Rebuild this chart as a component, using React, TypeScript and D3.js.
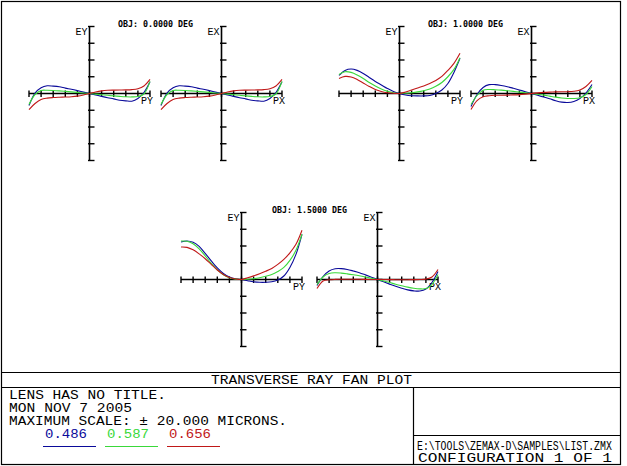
import React, { useEffect, useRef } from 'react';
import * as d3 from 'd3';

// pupil sample positions shared by every fan
const pupil = [-1, -0.9, -0.8, -0.7, -0.6, -0.5, -0.4, -0.3, -0.2, -0.1, 0, 0.1, 0.2, 0.3, 0.4, 0.5, 0.6, 0.7, 0.8, 0.9, 1];

const wavelengths = ['0.486', '0.587', '0.656'];
const waveColors = ['#0a0a9a', '#3ad83a', '#c01818'];

const fieldTitles = ['OBJ: 0.0000 DEG', 'OBJ: 1.0000 DEG', 'OBJ: 1.5000 DEG'];

// transverse aberration, microns (blue, green, red)
const obj0Ey = [
  [-3.6, 0.1, 1.7, 2.3, 2.2, 2.0, 1.6, 1.25, 0.85, 0.42, 0, -0.42, -0.85, -1.25, -1.6, -2.0, -2.2, -2.3, -1.5, 0.3, 3.5],
  [-3.3, -0.3, 0.9, 0.96, 0.9, 0.78, 0.63, 0.48, 0.33, 0.15, 0, -0.18, -0.36, -0.54, -0.72, -0.87, -0.99, -1.02, -0.9, -0.15, 3.6],
  [-4.8, -3.0, -1.8, -1.38, -1.2, -1.11, -1.05, -0.96, -0.78, -0.45, 0, 0.45, 0.78, 0.96, 1.02, 1.05, 1.08, 1.17, 1.44, 2.25, 4.2],
];
const obj0Ex = [
  [-3.6, 0.1, 1.7, 2.3, 2.2, 2.0, 1.6, 1.25, 0.85, 0.42, 0, -0.42, -0.85, -1.25, -1.6, -2.0, -2.2, -2.3, -1.5, 0.3, 3.5],
  [-3.3, -0.3, 0.9, 0.96, 0.9, 0.78, 0.63, 0.48, 0.33, 0.15, 0, -0.18, -0.36, -0.54, -0.72, -0.87, -0.99, -1.02, -0.9, -0.15, 3.6],
  [-4.8, -3.0, -1.8, -1.38, -1.2, -1.11, -1.05, -0.96, -0.78, -0.45, 0, 0.45, 0.78, 0.96, 1.02, 1.05, 1.08, 1.17, 1.44, 2.25, 4.2],
];
const obj1Ey = [
  [5.4, 6.9, 7.3, 6.9, 6.0, 4.8, 3.6, 2.55, 1.5, 0.6, 0, -0.45, -0.66, -0.72, -0.72, -0.6, 0, 1.05, 3.0, 6.3, 10.5],
  [5.7, 6.5, 6.3, 5.55, 4.5, 3.3, 2.25, 1.35, 0.69, 0.24, 0, 0.09, 0.24, 0.48, 0.84, 1.35, 2.16, 3.3, 5.0, 7.2, 10.7],
  [4.5, 5.1, 4.95, 4.2, 3.15, 2.1, 1.2, 0.6, 0.24, 0.06, 0, 0.45, 1.05, 1.65, 2.25, 3.0, 3.9, 5.1, 6.9, 9.0, 12.0],
];
const obj1Ex = [
  [-3.9, -0.3, 1.8, 2.64, 2.64, 2.4, 2.04, 1.56, 1.05, 0.54, 0, -0.54, -1.05, -1.56, -2.16, -2.58, -2.7, -2.4, -1.5, 0.15, 2.7],
  [-3.3, -0.6, 0.96, 1.2, 1.14, 1.02, 0.84, 0.63, 0.42, 0.21, 0, -0.24, -0.48, -0.78, -1.08, -1.32, -1.47, -1.5, -1.26, -0.3, 2.1],
  [-4.8, -2.1, -0.96, -0.66, -0.54, -0.51, -0.48, -0.42, -0.33, -0.18, 0, 0.18, 0.33, 0.42, 0.48, 0.51, 0.54, 0.66, 1.05, 2.1, 3.9],
];
const obj15Ey = [
  [11.2, 11.5, 11.1, 9.9, 7.8, 5.55, 3.45, 1.8, 0.75, 0.21, 0, -0.36, -0.69, -0.84, -0.84, -0.69, -0.15, 1.05, 3.6, 7.5, 13.5],
  [11.5, 11.4, 10.65, 9.15, 7.05, 4.8, 2.85, 1.44, 0.54, 0.12, 0, 0.06, 0.24, 0.54, 0.96, 1.5, 2.4, 3.6, 5.7, 8.7, 13.5],
  [9.7, 9.6, 8.85, 7.65, 6.2, 4.5, 2.85, 1.5, 0.6, 0.15, 0, 0.51, 1.08, 1.74, 2.46, 3.3, 4.5, 6.0, 7.95, 10.5, 14.7],
];
const obj15Ex = [
  [-1.8, 0.9, 2.55, 3.2, 3.24, 3.0, 2.55, 2.04, 1.38, 0.69, 0, -0.69, -1.38, -2.04, -2.61, -3.09, -3.39, -3.45, -2.85, -0.9, 2.4],
  [-1.5, 0.75, 1.8, 2.0, 1.9, 1.68, 1.41, 1.11, 0.75, 0.36, 0, -0.45, -0.9, -1.41, -1.86, -2.28, -2.61, -2.79, -2.7, -1.5, 1.5],
  [-2.7, -0.45, -0.09, 0.03, 0.06, 0.06, 0.06, 0.06, 0.03, 0.015, 0, -0.015, -0.03, -0.06, -0.06, -0.06, -0.03, 0, 0.12, 0.75, 3.0],
];

const maxScale = 20; // microns at the end of each vertical axis

// one entry per fan: axis labels and the three wavelength curves
const fans = [
  { yLabel: 'EY', xLabel: 'PY', values: obj0Ey },
  { yLabel: 'EX', xLabel: 'PX', values: obj0Ex },
  { yLabel: 'EY', xLabel: 'PY', values: obj1Ey },
  { yLabel: 'EX', xLabel: 'PX', values: obj1Ex },
  { yLabel: 'EY', xLabel: 'PY', values: obj15Ey },
  { yLabel: 'EX', xLabel: 'PX', values: obj15Ex },
];

const W = 627;
const H = 466;
const halfW = 60.5;
const halfH = 67;
// plot origins
const centers = [
  [89.5, 93.5], [221.5, 93.5],
  [399.5, 93.5], [531.5, 93.5],
  [241.5, 279.5], [377.5, 279.5],
];

const mono = '"DejaVu Sans Mono", "Liberation Mono", monospace';
const thinMono = '"Liberation Mono", "DejaVu Sans Mono", monospace';

const App = () => {
  const svgRef = useRef<SVGSVGElement | null>(null);

  useEffect(() => {
    const svg = d3.select(svgRef.current);
    svg.selectAll('*').remove();

    svg.append('rect').attr('width', W).attr('height', H).attr('fill', '#fff');

    fans.forEach((fan, i) => {
      const [cx, cy] = centers[i];
      const x = d3.scaleLinear().domain([-1, 1]).range([cx - halfW, cx + halfW]);
      const y = d3.scaleLinear().domain([-maxScale, maxScale]).range([cy + halfH, cy - halfH]);
      const g = svg.append('g');

      // horizontal pupil axis with ticks
      g.append('line')
        .attr('x1', x(-1)).attr('x2', x(1)).attr('y1', y(0)).attr('y2', y(0))
        .attr('stroke', '#000').attr('stroke-width', 1.6);
      g.selectAll('.xt')
        .data(d3.ticks(-1, 1, 10))
        .join('line')
        .attr('x1', d => x(d)).attr('x2', d => x(d))
        .attr('y1', y(0) - 3).attr('y2', y(0) + 3.5)
        .attr('stroke', '#000').attr('stroke-width', 1.4);

      // vertical aberration axis with ticks
      g.append('line')
        .attr('x1', x(0)).attr('x2', x(0)).attr('y1', y(maxScale)).attr('y2', y(-maxScale))
        .attr('stroke', '#000').attr('stroke-width', 1.6);
      g.selectAll('.yt')
        .data(d3.ticks(-maxScale, maxScale, 10))
        .join('line')
        .attr('x1', x(0) - 1.5).attr('x2', x(0) + 5)
        .attr('y1', d => y(d)).attr('y2', d => y(d))
        .attr('stroke', '#000').attr('stroke-width', 1.4);

      g.append('text')
        .attr('x', x(0) - 2).attr('y', y(maxScale) + 8)
        .attr('text-anchor', 'end')
        .attr('font-family', thinMono).attr('font-size', 10)
        .text(fan.yLabel);
      g.append('text')
        .attr('x', x(1) + 3).attr('y', y(0) + 10.5)
        .attr('text-anchor', 'end')
        .attr('font-family', thinMono).attr('font-size', 10)
        .text(fan.xLabel);

      const line = d3.line<number>()
        .x((_, k) => x(pupil[k]))
        .y(d => y(d))
        .curve(d3.curveCatmullRom.alpha(0.5));

      fan.values.forEach((vals, w) => {
        g.append('path')
          .attr('d', line(vals))
          .attr('fill', 'none')
          .attr('stroke', waveColors[w])
          .attr('stroke-width', 1.1);
      });
    });

    // field titles centred over each pair
    fieldTitles.forEach((t, f) => {
      const left = centers[f * 2];
      const right = centers[f * 2 + 1];
      svg.append('text')
        .attr('x', (left[0] + right[0]) / 2)
        .attr('y', left[1] - halfH)
        .attr('text-anchor', 'middle')
        .attr('font-family', mono).attr('font-size', 8).attr('font-weight', 'bold')
        .attr('textLength', 75).attr('lengthAdjust', 'spacingAndGlyphs')
        .text(t);
    });

    // frame and title block
    const frame = svg.append('g').attr('stroke', '#000').attr('stroke-width', 1.2).attr('fill', 'none');
    frame.append('rect').attr('x', 1.5).attr('y', 1.5).attr('width', 619).attr('height', 463);
    frame.append('line').attr('x1', 1.5).attr('x2', 620.5).attr('y1', 372.5).attr('y2', 372.5);
    frame.append('line').attr('x1', 1.5).attr('x2', 620.5).attr('y1', 387.5).attr('y2', 387.5);
    frame.append('line').attr('x1', 413.5).attr('x2', 413.5).attr('y1', 387.5).attr('y2', 464.5);
    frame.append('line').attr('x1', 413.5).attr('x2', 620.5).attr('y1', 435.5).attr('y2', 435.5);

    const label = (s: string, x0: number, yb: number, len: number, size = 12, color = '#000') =>
      svg.append('text')
        .attr('x', x0).attr('y', yb)
        .attr('font-family', thinMono).attr('font-size', size)
        .attr('fill', color)
        .attr('textLength', len).attr('lengthAdjust', 'spacingAndGlyphs')
        .text(s);

    label('TRANSVERSE RAY FAN PLOT', 211, 384, 201);
    label('LENS HAS NO TITLE.', 9, 399, 157);
    label('MON NOV 7 2005', 9, 412, 123);
    label('MAXIMUM SCALE: \u00b1 20.000 MICRONS.', 9, 425, 278);
    label('CONFIGURATION 1 OF 1', 418, 462, 194);

    // the file path is drawn in a horizontally condensed face
    svg.append('text')
      .attr('transform', 'translate(417,449.5) scale(0.82,1)')
      .attr('font-family', thinMono).attr('font-size', 12)
      .text('E:\\TOOLS\\ZEMAX-D\\SAMPLES\\LIST.ZMX');

    const legendX = [44, 106, 168];
    wavelengths.forEach((wl, w) => {
      label(wl, legendX[w] + 1, 438, 42, 12, waveColors[w]);
      svg.append('line')
        .attr('x1', legendX[w] - 1).attr('x2', legendX[w] + 52)
        .attr('y1', 446.5).attr('y2', 446.5)
        .attr('stroke', waveColors[w]).attr('stroke-width', 1.2);
    });
  }, []);

  return (
    <svg ref={svgRef} width={W} height={H} style={{ position: 'absolute', left: 0, top: 0 }} />
  );
};

export default App;
